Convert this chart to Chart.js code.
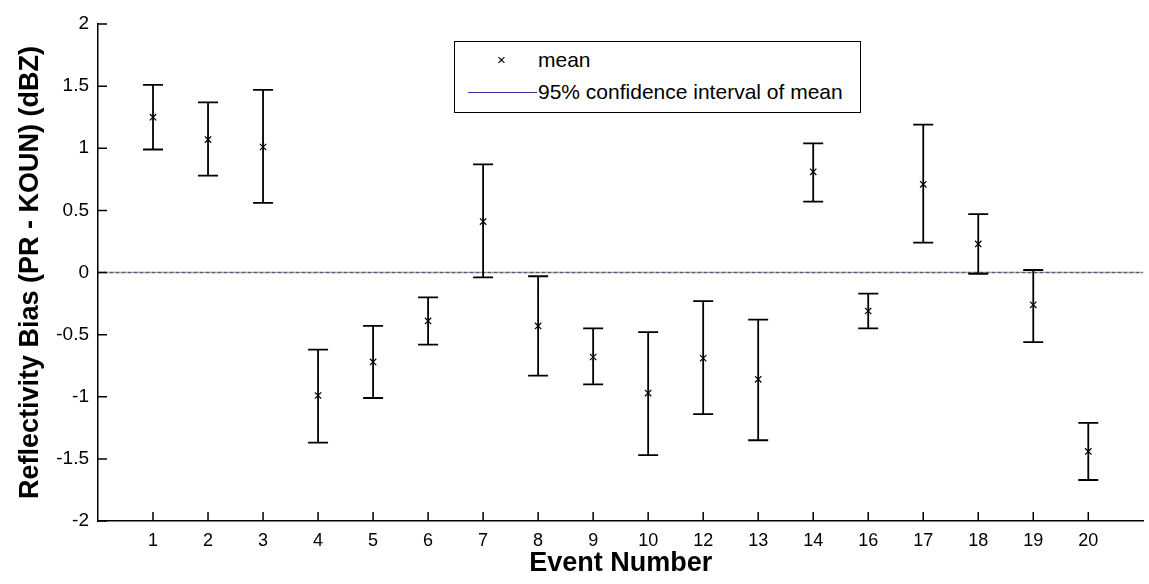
<!DOCTYPE html>
<html>
<head>
<meta charset="utf-8">
<script src="https://cdn.jsdelivr.net/npm/chart.js@4.4.0/dist/chart.umd.min.js"></script>
<style>
  html, body { margin: 0; padding: 0; background: #fff; }
  #wrap { position: relative; width: 1149px; height: 584px; }
  #legend {
    position: absolute; left: 454px; top: 41px; width: 405px; height: 70px;
    border: 1.5px solid #000; background: #fff;
    font-family: "Liberation Sans", Arial, sans-serif; font-size: 21px; color: #000;
  }
  #legend .row { position: absolute; left: 0; height: 26px; line-height: 26px; }
  #legend .txt { position: absolute; left: 83px; white-space: nowrap; }
  #legend .mk { position: absolute; left: 42px; font-size: 15px; }
  #legend .ln { position: absolute; left: 13px; top: 13px; width: 69px; height: 0; border-top: 1.5px solid #3333a0; }
</style>
</head>
<body>
<div id="wrap">
  <canvas id="chart" width="1149" height="584"></canvas>
  <div id="legend">
    <div class="row" style="top:5px"><span class="mk">×</span><span class="txt">mean</span></div>
    <div class="row" style="top:37px"><span class="ln"></span><span class="txt">95% confidence interval of mean</span></div>
  </div>
</div>
<script>
// ===============================
// DATA
// ===============================
const events = ["1", "2", "3", "4", "5", "6", "7", "8", "9", "10", "12", "13", "14", "16", "17", "18", "19", "20"];
const means = [1.25, 1.07, 1.01, -0.99, -0.72, -0.39, 0.41, -0.43, -0.68, -0.97, -0.69, -0.86, 0.81, -0.31, 0.71, 0.23, -0.26, -1.44];
const upper = [1.51, 1.37, 1.47, -0.62, -0.43, -0.20, 0.87, -0.03, -0.45, -0.48, -0.23, -0.38, 1.04, -0.17, 1.19, 0.47, 0.02, -1.21];
const lower = [0.99, 0.78, 0.56, -1.37, -1.01, -0.58, -0.04, -0.83, -0.90, -1.47, -1.14, -1.35, 0.57, -0.45, 0.24, -0.01, -0.56, -1.67];
const yTicks = [-2, -1.5, -1, -0.5, 0, 0.5, 1, 1.5, 2];
const zeroLine = [0, 0];

const FONT = "'Liberation Sans', Arial, sans-serif";

// ===============================
// PLUGINS
// ===============================

// error bars (whiskers + caps)
const errorBars = {
  id: "errorBars",
  afterDatasetsDraw(chart) {
    const { ctx, scales: { x, y } } = chart;
    ctx.save();
    ctx.strokeStyle = "#000";
    ctx.lineWidth = 1.8;
    ctx.beginPath();
    events.forEach((_, i) => {
      const px = x.getPixelForValue(i + 1);
      const top = y.getPixelForValue(upper[i]);
      const bot = y.getPixelForValue(lower[i]);
      ctx.moveTo(px, top); ctx.lineTo(px, bot);
      ctx.moveTo(px - 10, top); ctx.lineTo(px + 10, top);
      ctx.moveTo(px - 10, bot); ctx.lineTo(px + 10, bot);
    });
    ctx.stroke();
    ctx.restore();
  }
};

// inward ticks like matlab
const inwardTicks = {
  id: "inwardTicks",
  afterDraw(chart) {
    const { ctx, chartArea: a, scales: { x, y } } = chart;
    ctx.save();
    ctx.strokeStyle = "#000";
    ctx.lineWidth = 1.5;
    ctx.beginPath();
    events.forEach((_, i) => {
      const px = x.getPixelForValue(i + 1);
      ctx.moveTo(px, a.bottom); ctx.lineTo(px, a.bottom - 9);
    });
    yTicks.forEach(v => {
      const py = y.getPixelForValue(v);
      ctx.moveTo(a.left, py); ctx.lineTo(a.left + 9, py);
    });
    ctx.stroke();
    ctx.restore();
  }
};

// ===============================
// CHART
// ===============================
new Chart(document.getElementById("chart"), {
  type: "scatter",
  data: {
    datasets: [
      {
        label: "zero-a",
        data: zeroLine.map((v, i) => ({ x: i * 19, y: v })),
        showLine: true,
        borderColor: "#5050a0",
        borderWidth: 1.5,
        borderDash: [3, 3],
        pointRadius: 0
      },
      {
        label: "zero-b",
        data: zeroLine.map((v, i) => ({ x: i * 19, y: v })),
        showLine: true,
        borderColor: "#b0a070",
        borderWidth: 1.5,
        borderDash: [3, 3],
        borderDashOffset: 3,
        pointRadius: 0
      },
      {
        label: "mean",
        data: means.map((v, i) => ({ x: i + 1, y: v })),
        pointStyle: "crossRot",
        pointRadius: 4.5,
        borderColor: "#000",
        borderWidth: 1.2
      }
    ]
  },
  options: {
    responsive: false,
    animation: false,
    layout: { padding: { top: 24, right: 0, left: 0, bottom: 0 } },
    plugins: { legend: { display: false }, tooltip: { enabled: false } },
    scales: {
      x: {
        type: "linear",
        min: 0,
        max: 19,
        afterBuildTicks: s => { s.ticks = events.map((_, i) => ({ value: i + 1 })); },
        afterFit: s => { s.height = 63; },
        grid: { display: false, drawTicks: false },
        border: { display: true, color: "#000", width: 1.5 },
        ticks: {
          autoSkip: false,
          maxRotation: 0,
          padding: 9,
          color: "#000",
          font: { family: FONT, size: 18 },
          callback: v => events[v - 1] ?? ""
        },
        title: {
          display: true,
          text: "Event Number",
          color: "#000",
          font: { family: FONT, size: 27, weight: "bold" },
          padding: { top: 0, bottom: 4 }
        }
      },
      y: {
        min: -2,
        max: 2,
        afterBuildTicks: s => { s.ticks = yTicks.map(v => ({ value: v })); },
        afterFit: s => { s.width = 98; },
        grid: { display: false, drawTicks: false },
        border: { display: true, color: "#000", width: 1.5 },
        ticks: {
          padding: 9,
          color: "#000",
          font: { family: FONT, size: 19 },
          callback: v => String(v)
        },
        title: {
          display: true,
          text: "Reflectivity Bias (PR - KOUN) (dBZ)",
          color: "#000",
          font: { family: FONT, size: 27, weight: "bold" },
          padding: { top: 14, bottom: 0 }
        }
      }
    }
  },
  plugins: [errorBars, inwardTicks]
});
</script>
</body>
</html>
